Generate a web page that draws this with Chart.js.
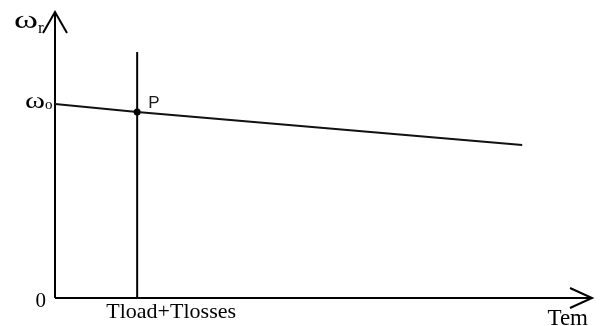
<!DOCTYPE html>
<html>
<head>
<meta charset="utf-8">
<script src="https://cdn.jsdelivr.net/npm/chart.js@4.4.1/dist/chart.umd.min.js"></script>
<style>
    html, body { margin: 0; padding: 0; background: #fff; }
    #wrap { width: 600px; height: 326px; }
</style>
</head>
<body>
<div id="wrap"><canvas id="speed-torque-chart"></canvas></div>
<script>
// 速度-トルク特性（x: トルク, y: 回転速度）
const axisMax = { x: 10, y: 10 };
const loadTorque = 1.53;          // Tload+Tlosses
const speedLineX = [0, 1.53, 8.7];
const speedLineY = [6.78, 6.5, 5.35];
const loadLineY = [0, 8.6];
const tickLabels = { origin: '0', speed: 'ω', speedSub: 'o', load: 'Tload+Tlosses' };
const axisLabels = { y: 'ω', ySub: 'r', x: 'Tem' };
const pointLabel = 'P';

const serif = '"Liberation Serif", "DejaVu Serif", serif';

// ωを指定幅に引き伸ばして描く
function drawOmega(ctx, text, left, baseline, size, width) {
    ctx.save();
    ctx.font = size + 'px ' + serif;
    ctx.textAlign = 'left';
    const w = ctx.measureText(text).width;
    ctx.translate(left, baseline);
    ctx.scale(width / w, 1);
    ctx.fillText(text, 0, 0);
    ctx.restore();
}

const arrowAxes = {
    id: 'arrowAxes',
    beforeDatasetsDraw(chart) {
        const { ctx, scales: { x, y } } = chart;
        const x0 = x.getPixelForValue(0);
        const y0 = y.getPixelForValue(0);
        const xEnd = x.getPixelForValue(axisMax.x);
        const yEnd = y.getPixelForValue(axisMax.y);
        ctx.save();
        ctx.strokeStyle = '#000';
        ctx.lineWidth = 2;
        ctx.beginPath();
        ctx.moveTo(x0, y0);
        ctx.lineTo(x0, yEnd);
        ctx.moveTo(x0, y0);
        ctx.lineTo(xEnd, y0);
        // 矢印
        ctx.moveTo(x0 - 12, yEnd + 21);
        ctx.lineTo(x0, yEnd);
        ctx.lineTo(x0 + 12, yEnd + 21);
        ctx.moveTo(xEnd - 22, y0 - 10);
        ctx.lineTo(xEnd, y0);
        ctx.lineTo(xEnd - 22, y0 + 10);
        ctx.stroke();
        ctx.restore();
    },
    afterDatasetsDraw(chart) {
        const { ctx, scales: { x, y } } = chart;
        const x0 = x.getPixelForValue(0);
        const y0 = y.getPixelForValue(0);
        ctx.save();
        ctx.fillStyle = '#000';
        ctx.textBaseline = 'alphabetic';
        ctx.textAlign = 'left';

        // 縦軸ラベル
        drawOmega(ctx, axisLabels.y, 14, 28, 26, 24);
        ctx.font = '17px ' + serif;
        ctx.fillText(axisLabels.ySub, 38, 33);

        // ω0
        const ys = y.getPixelForValue(speedLineY[0]);
        drawOmega(ctx, tickLabels.speed, 25, ys + 4, 24, 20);
        ctx.font = '15px ' + serif;
        ctx.fillText(tickLabels.speedSub, 45, ys + 5);

        // 0
        ctx.font = '21px ' + serif;
        ctx.textAlign = 'right';
        ctx.fillText(tickLabels.origin, x0 - 9, y0 + 9);

        // Tload+Tlosses
        ctx.textAlign = 'center';
        ctx.font = '22px ' + serif;
        ctx.fillText(tickLabels.load, x.getPixelForValue(loadTorque) + 34, y0 + 20);

        // Tem
        ctx.textAlign = 'right';
        ctx.font = '23px ' + serif;
        ctx.fillText(axisLabels.x, x.getPixelForValue(axisMax.x) - 4, y0 + 27);

        // P
        ctx.textAlign = 'left';
        ctx.font = '17px "Liberation Sans", Arial, sans-serif';
        ctx.fillStyle = '#1a1a1a';
        ctx.fillText(pointLabel, x.getPixelForValue(speedLineX[1]) + 11, y.getPixelForValue(speedLineY[1]) - 4);
        ctx.restore();
    }
};

new Chart(document.getElementById('speed-torque-chart'), {
    type: 'scatter',
    data: {
        datasets: [
            {
                data: speedLineX.map((v, i) => ({ x: v, y: speedLineY[i] })),
                showLine: true,
                borderColor: '#111',
                borderWidth: 2,
                pointRadius: [0, 3.5, 0],
                pointBackgroundColor: '#000',
                pointBorderWidth: 0
            },
            {
                data: loadLineY.map(v => ({ x: loadTorque, y: v })),
                showLine: true,
                borderColor: '#000',
                borderWidth: 2,
                pointRadius: 0
            }
        ]
    },
    options: {
        responsive: true,
        maintainAspectRatio: false,
        animation: false,
        layout: { padding: { left: 55, right: 8, top: 12, bottom: 28 } },
        plugins: { legend: { display: false }, tooltip: { enabled: false } },
        scales: {
            x: { type: 'linear', min: 0, max: axisMax.x, display: false },
            y: { type: 'linear', min: 0, max: axisMax.y, display: false }
        }
    },
    plugins: [arrowAxes]
});
</script>
</body>
</html>
